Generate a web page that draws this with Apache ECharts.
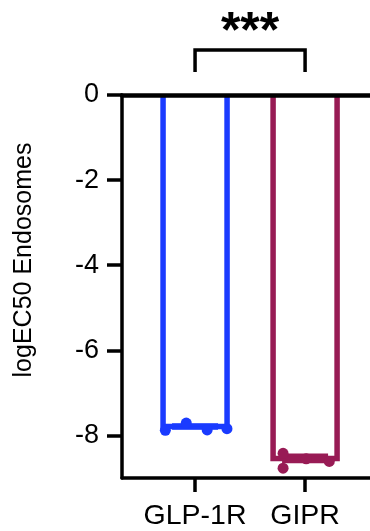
<!DOCTYPE html>
<html>
<head>
<meta charset="utf-8">
<script src="https://cdn.jsdelivr.net/npm/echarts@6/dist/echarts.min.js"></script>
<style>
  html, body { margin: 0; padding: 0; background: #fff; }
  #chart { width: 370px; height: 531px; }
</style>
</head>
<body>
<div id="chart"></div>
<script>
// ---- data ----
const categories = ['GLP-1R', 'GIPR'];
const categoryX = [1, 2];
const barMeans = [-7.79, -8.54];
const barSEM = [0.04, 0.08];
const glpPointsX = [0.73, 0.92, 1.11, 1.29];
const glpPointsY = [-7.88, -7.71, -7.87, -7.84];
const giprPointsX = [1.80, 1.80, 2.01, 2.22];
const giprPointsY = [-8.42, -8.77, -8.55, -8.61];
const yTicks = [0, -2, -4, -6, -8];
const sigLabel = '***';

const colors = ['#1a3bff', '#981b55'];
const FONT = '"Liberation Sans", Arial, Helvetica, sans-serif';

const chart = echarts.init(document.getElementById('chart'), null, { renderer: 'canvas' });

const xMin = 0.336, xMax = 2.59;
const BAR_HALF = 32;

const option = {
  backgroundColor: '#fff',
  animation: false,
  grid: { left: 122, right: 0, top: 95, bottom: 53, containLabel: false },
  xAxis: [{
    type: 'value', min: xMin, max: xMax, position: 'bottom',
    splitLine: { show: false },
    axisLine: { show: true, onZero: false, lineStyle: { color: '#000', width: 3.5 } },
    axisTick: { show: true, customValues: categoryX, length: 14, lineStyle: { color: '#000', width: 3.5 } },
    axisLabel: {
      show: true, customValues: categoryX, margin: 24,
      formatter: v => categories[categoryX.indexOf(v)] || '',
      color: '#000', fontSize: 28.5, fontFamily: FONT
    }
  }, {
    type: 'value', min: xMin, max: xMax, position: 'top', z: 10,
    splitLine: { show: false },
    axisLine: { show: true, onZero: false, lineStyle: { color: '#000', width: 4.5 } },
    axisTick: { show: false }, axisLabel: { show: false }
  }],
  yAxis: {
    type: 'value', min: -9, max: 0,
    splitLine: { show: false },
    axisLine: { show: true, onZero: false, lineStyle: { color: '#000', width: 3.5 } },
    axisTick: { show: true, customValues: yTicks, length: 15, lineStyle: { color: '#000', width: 3.5 } },
    axisLabel: { show: true, customValues: yTicks, margin: 23, color: '#000', fontSize: 27, fontFamily: FONT },
    name: 'logEC50 Endosomes', nameLocation: 'middle', nameRotate: 90, nameGap: 85,
    nameTextStyle: { color: '#000', fontSize: 25, fontFamily: FONT, padding: [0, 0, 0, 53] }
  },
  series: [
    {
      // open bars: left side, bottom, right side
      type: 'custom', xAxisIndex: 0, z: 2,
      data: categoryX.map((x, i) => [x, barMeans[i], i]),
      renderItem: (params, api) => {
        const x = api.value(0), m = api.value(1), i = api.value(2);
        const top = api.coord([x, 0]);
        const bot = api.coord([x, m]);
        return {
          type: 'polyline',
          shape: { points: [
            [top[0] - BAR_HALF, top[1]], [bot[0] - BAR_HALF, bot[1]],
            [bot[0] + BAR_HALF, bot[1]], [top[0] + BAR_HALF, top[1]]
          ] },
          style: { stroke: colors[i], lineWidth: 5.5, fill: null, lineJoin: 'miter' }
        };
      }
    },
    {
      type: 'custom', xAxisIndex: 0,
      data: categoryX.map((x, i) => [x, barMeans[i], barSEM[i], i]),
      renderItem: (params, api) => {
        const i = api.value(3);
        const c = colors[i];
        const x = api.value(0), m = api.value(1), s = api.value(2);
        const lo = api.coord([x, m - s]);
        const hi = api.coord([x, m + s]);
        const hw = 23;
        return {
          type: 'group',
          children: [
            { type: 'line', shape: { x1: lo[0], y1: lo[1], x2: hi[0], y2: hi[1] }, style: { stroke: c, lineWidth: 3 } },
            { type: 'line', shape: { x1: lo[0] - hw, y1: lo[1], x2: lo[0] + hw, y2: lo[1] }, style: { stroke: c, lineWidth: 3 } },
            { type: 'line', shape: { x1: hi[0] - hw, y1: hi[1], x2: hi[0] + hw, y2: hi[1] }, style: { stroke: c, lineWidth: 3 } }
          ]
        };
      },
      z: 3
    },
    {
      type: 'scatter', xAxisIndex: 0, symbol: 'circle', symbolSize: 11,
      itemStyle: { color: colors[0], opacity: 1 },
      data: glpPointsX.map((x, i) => [x, glpPointsY[i]]), z: 4
    },
    {
      type: 'scatter', xAxisIndex: 0, symbol: 'circle', symbolSize: 11,
      itemStyle: { color: colors[1], opacity: 1 },
      data: giprPointsX.map((x, i) => [x, giprPointsY[i]]), z: 4
    },
    {
      type: 'custom', xAxisIndex: 0, clip: false, silent: true,
      data: [[categoryX[0], categoryX[1]]],
      renderItem: (params, api) => {
        const x1 = api.value(0), x2 = api.value(1);
        const pTop1 = api.coord([x1, 1.06]);
        const pTop2 = api.coord([x2, 1.06]);
        const pLeg1 = api.coord([x1, 0.54]);
        const pLeg2 = api.coord([x2, 0.54]);
        const pTxt = api.coord([(x1 + x2) / 2, 1.46]);
        return {
          type: 'group',
          children: [
            { type: 'polyline', shape: { points: [pLeg1, pTop1, pTop2, pLeg2] },
              style: { stroke: '#000', lineWidth: 3.5, fill: null } },
            { type: 'text', x: pTxt[0], y: pTxt[1],
              style: { text: sigLabel, fill: '#000', font: 'bold 50px ' + FONT, align: 'center', verticalAlign: 'middle' } }
          ]
        };
      }
    }
  ]
};
chart.setOption(option);
</script>
</body>
</html>
